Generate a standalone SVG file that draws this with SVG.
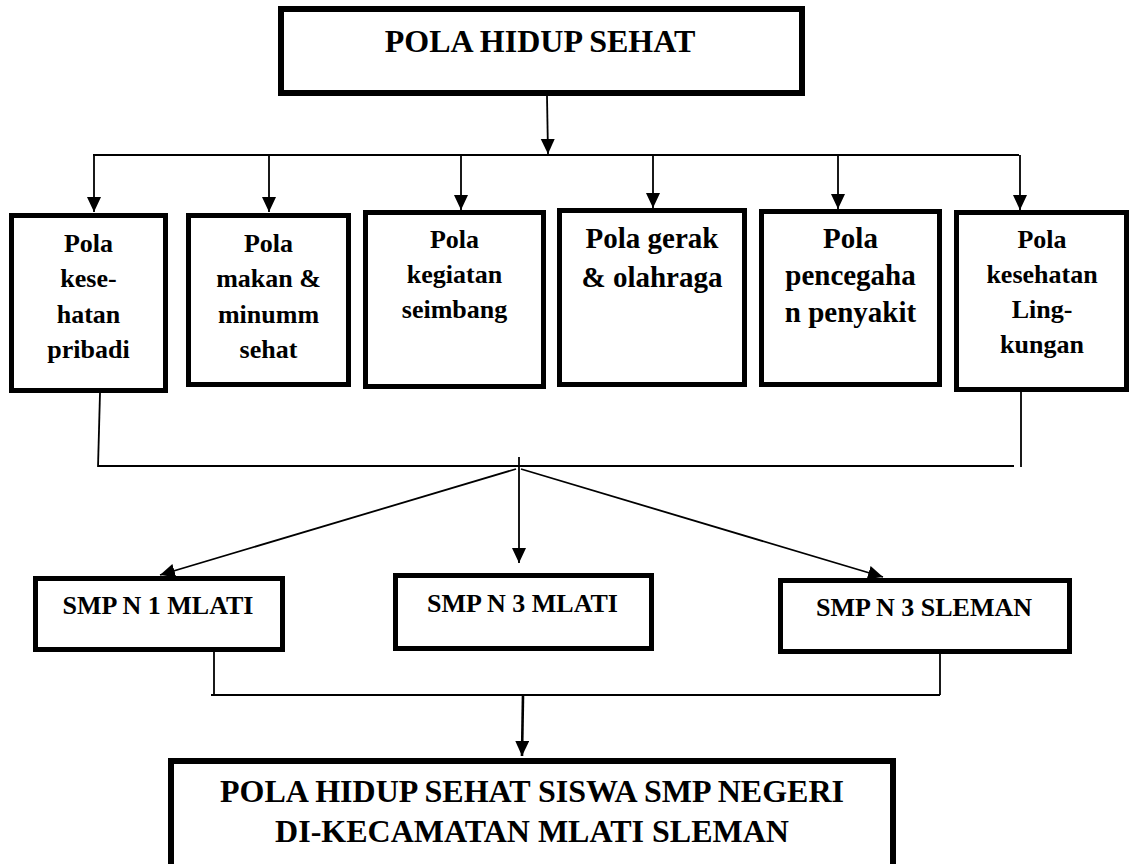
<svg xmlns="http://www.w3.org/2000/svg" width="1130" height="864" viewBox="0 0 1130 864">
<style>
.box{fill:#fff;stroke:#000;stroke-width:5}
.big{stroke-width:6}
.t{font-weight:bold;fill:#000;text-anchor:middle}
.s26{font-size:26px}
.s29{font-size:29px}
.s32{font-size:32px}
.c{fill:none;stroke:#000;stroke-width:1.8}
</style>
<defs>
<marker id="ah" markerUnits="userSpaceOnUse" markerWidth="16" markerHeight="15" refX="15" refY="7" orient="auto" viewBox="0 0 16 15">
<path d="M0,0 L15,7 L0,14 z" fill="#000"/>
</marker>
</defs>
<g id="connectors">
<line class="c" x1="547" y1="96" x2="548" y2="154" marker-end="url(#ah)"/>
<line class="c" x1="93" y1="155" x2="1019" y2="155"/>
<line class="c" x1="94" y1="155" x2="94" y2="212" marker-end="url(#ah)"/>
<line class="c" x1="269" y1="155" x2="269" y2="212" marker-end="url(#ah)"/>
<line class="c" x1="461" y1="155" x2="461" y2="210" marker-end="url(#ah)"/>
<line class="c" x1="653" y1="155" x2="653" y2="208" marker-end="url(#ah)"/>
<line class="c" x1="838" y1="155" x2="838" y2="209" marker-end="url(#ah)"/>
<line class="c" x1="1020" y1="155" x2="1020" y2="210" marker-end="url(#ah)"/>
<line class="c" x1="100" y1="393" x2="98" y2="467"/>
<line class="c" x1="1021" y1="392" x2="1021" y2="467"/>
<line class="c" x1="98" y1="466" x2="1014" y2="466"/>
<line class="c" x1="519" y1="457" x2="519" y2="563" marker-end="url(#ah)"/>
<line class="c" x1="516" y1="469" x2="160" y2="575" marker-end="url(#ah)"/>
<line class="c" x1="521" y1="469" x2="883" y2="577" marker-end="url(#ah)"/>
<line class="c" x1="214" y1="652" x2="214" y2="695"/>
<line class="c" x1="940" y1="649" x2="940" y2="695"/>
<line class="c" x1="211" y1="695" x2="940" y2="695"/>
<line class="c" style="stroke-width:2.6" x1="523" y1="695" x2="522" y2="756" marker-end="url(#ah)"/>
</g>
<g font-family="Liberation Serif, DejaVu Serif, serif">
<g id="top">
<rect class="box big" x="281" y="9" width="521" height="84"/>
<text class="t s32" x="540" y="52">POLA HIDUP SEHAT</text>
</g>
<g id="pola1">
<rect class="box" x="11.5" y="215.5" width="154" height="175"/>
<text class="t s26" x="88.5" y="252">Pola</text>
<text class="t s26" x="88.5" y="287">kese-</text>
<text class="t s26" x="88.5" y="323">hatan</text>
<text class="t s26" x="88.5" y="358">pribadi</text>
</g>
<g id="pola2">
<rect class="box" x="188.5" y="215.5" width="160" height="169"/>
<text class="t s26" x="268.5" y="252">Pola</text>
<text class="t s26" x="268.5" y="287">makan &amp;</text>
<text class="t s26" x="268.5" y="323">minumm</text>
<text class="t s26" x="268.5" y="358">sehat</text>
</g>
<g id="pola3">
<rect class="box" x="365.5" y="212.5" width="178" height="174"/>
<text class="t s26" x="454.5" y="248">Pola</text>
<text class="t s26" x="454.5" y="283">kegiatan</text>
<text class="t s26" x="454.5" y="318">seimbang</text>
</g>
<g id="pola4">
<rect class="box" x="559.5" y="210.5" width="185" height="174"/>
<text class="t s29" x="652" y="248">Pola gerak</text>
<text class="t s29" x="652" y="287">&amp; olahraga</text>
</g>
<g id="pola5">
<rect class="box" x="761.5" y="211.5" width="178" height="173"/>
<text class="t s29" x="850.5" y="248">Pola</text>
<text class="t s29" x="850.5" y="285">pencegaha</text>
<text class="t s29" x="850.5" y="322">n penyakit</text>
</g>
<g id="pola6">
<rect class="box" x="956.5" y="212.5" width="170" height="177"/>
<text class="t s26" x="1042" y="248">Pola</text>
<text class="t s26" x="1042" y="283">kesehatan</text>
<text class="t s26" x="1042" y="318">Ling-</text>
<text class="t s26" x="1042" y="353">kungan</text>
</g>
<g id="smp1">
<rect class="box" x="35.5" y="578.5" width="247" height="71"/>
<text class="t s26" x="158" y="614">SMP N 1 MLATI</text>
</g>
<g id="smp2">
<rect class="box" x="395.5" y="575.5" width="256" height="73"/>
<text class="t s26" x="522.5" y="612">SMP N 3 MLATI</text>
</g>
<g id="smp3">
<rect class="box" x="780.5" y="580.5" width="289" height="71"/>
<text class="t s26" x="924" y="616">SMP N 3 SLEMAN</text>
</g>
<g id="result">
<rect class="box big" x="171" y="761" width="722" height="112"/>
<text class="t s32" x="532" y="802">POLA HIDUP SEHAT SISWA SMP NEGERI</text>
<text class="t s32" x="532" y="842">DI-KECAMATAN MLATI SLEMAN</text>
</g>
</g>
</svg>
